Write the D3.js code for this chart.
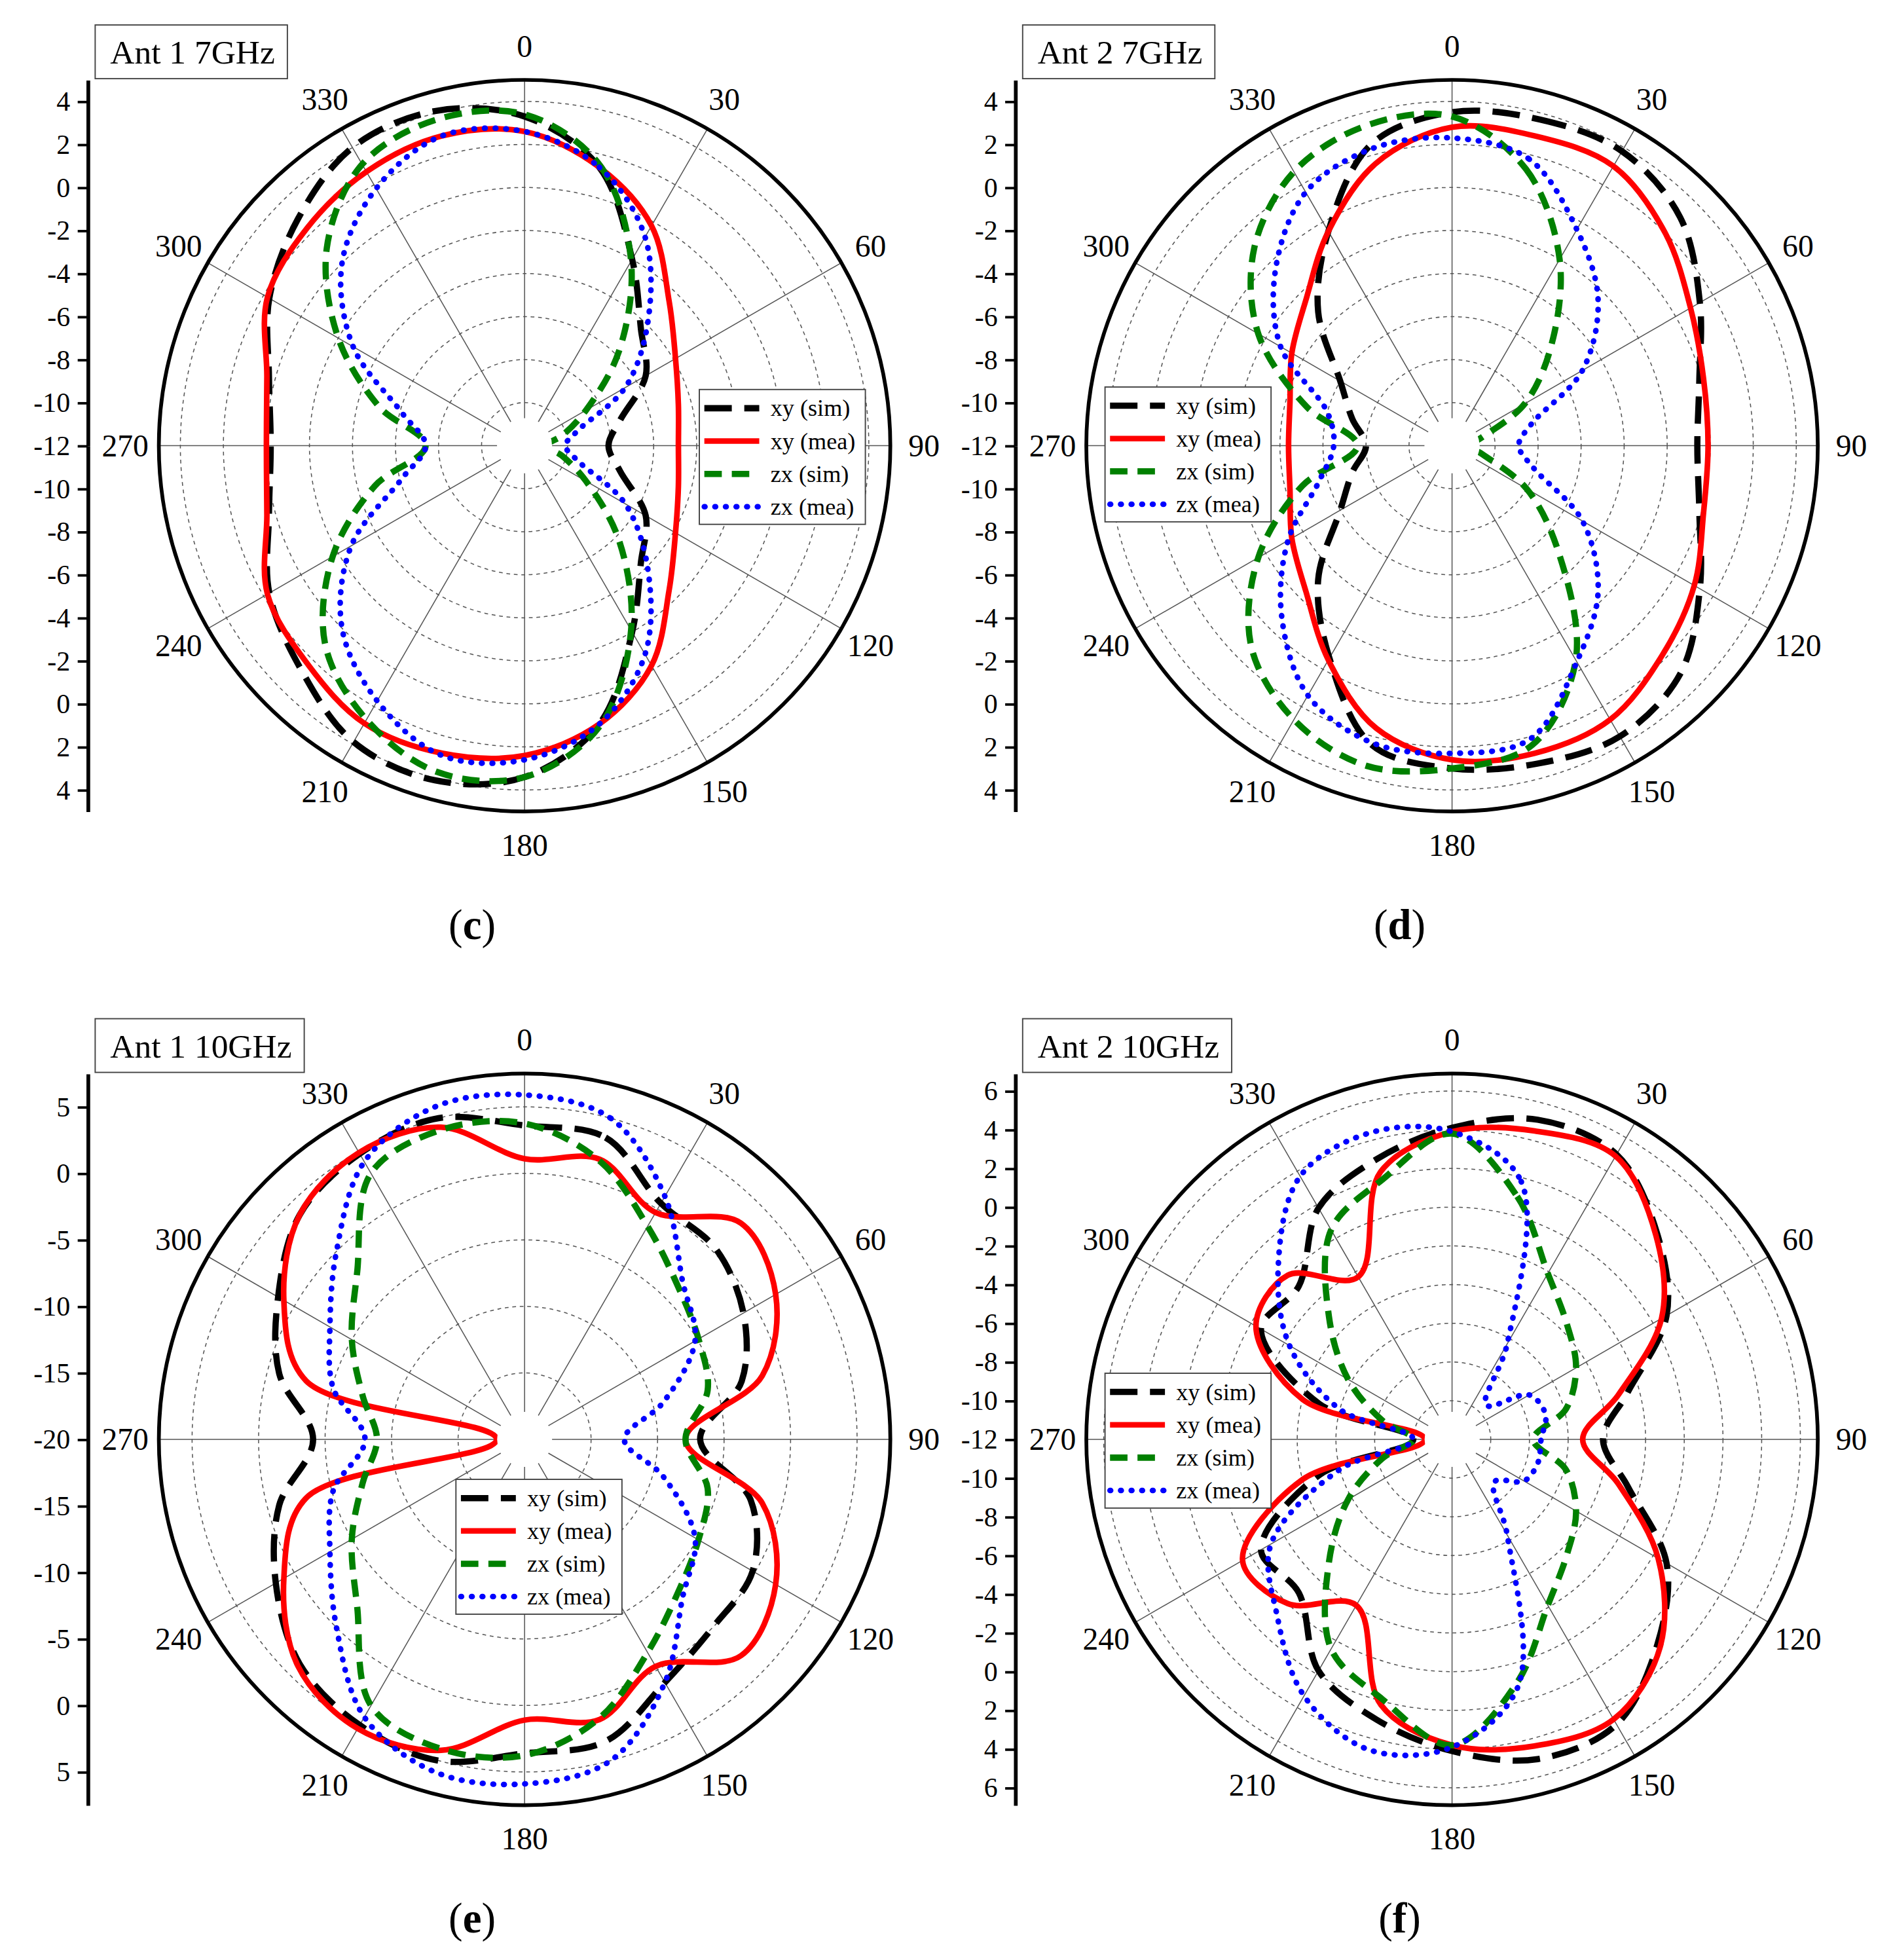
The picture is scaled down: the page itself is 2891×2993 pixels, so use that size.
<!DOCTYPE html>
<html lang="en">
<head>
<meta charset="UTF-8">
<title>Polar patterns</title>
<script src="https://cdn.jsdelivr.net/npm/d3@7/dist/d3.min.js"></script>
<style>body{margin:0;background:#fff} text{font-family:'Liberation Serif',serif}</style>
</head>
<body>
<svg id="main" width="2891" height="2993" viewBox="0 0 1516 1570"></svg>
<script>
// angles in degrees, 0 at top, clockwise
const angles = d3.range(0, 360, 15);
const seriesNames = ['xy (sim)', 'xy (mea)', 'zx (sim)', 'zx (mea)'];

const cXySim = [3.3,1.4,-2.0,-4.35,-5.5,-7.4,-8.1,-7.4,-5.5,-4.35,-2.0,1.4,3.4,4.1,3.9,2.7,1.7,0.3,-0.2,0.3,1.7,2.9,4.0,4.1];
const cXyMea = [2.6,1.4,-0.2,-2.5,-3.9,-4.6,-4.85,-4.6,-3.9,-2.5,-0.2,1.4,2.4,2.8,2.9,2.3,1.8,0.4,0.0,0.4,1.8,2.3,2.7,2.9];
const cZxSim = [3.4,1.5,-2.1,-5.8,-8.7,-10.2,-11.0,-10.2,-8.7,-5.8,-2.1,1.5,3.4,3.7,2.7,1.1,-1.7,-4.8,-7.4,-5.0,-2.0,1.0,3.1,3.7];
const cZxMea = [2.6,1.4,-0.8,-3.9,-6.6,-9.5,-10.1,-9.5,-6.6,-3.9,-0.8,1.4,2.6,2.9,1.7,0.0,-2.7,-6.1,-7.4,-6.1,-2.8,0.0,1.8,2.9];

const dXySim = [3.5,3.7,3.8,3.0,1.3,-0.1,-0.6,-0.1,1.3,3.0,3.6,3.3,3.0,2.4,-0.6,-3.2,-6.0,-7.2,-8.0,-7.2,-6.0,-3.2,-0.5,2.5];
const dXyMea = [2.8,2.9,3.0,2.0,0.8,0.1,-0.1,0.1,1.0,1.8,2.7,2.8,2.6,1.6,-0.5,-2.4,-3.4,-4.2,-4.4,-4.2,-3.4,-2.4,-0.5,1.6];
const dZxSim = [3.3,1.3,-2.0,-5.5,-8.1,-10.6,-11.2,-10.6,-8.0,-5.0,-0.5,2.4,3.0,3.4,2.7,1.2,-1.6,-4.8,-7.6,-5.0,-1.6,1.0,2.7,3.4];
const dZxMea = [2.3,1.8,-0.4,-2.4,-5.0,-8.2,-8.9,-8.1,-5.0,-2.4,-0.4,2.1,2.3,2.3,1.4,-0.8,-3.2,-5.6,-6.5,-6.0,-2.8,-0.4,1.6,2.3];

const eXySim = [3.6,3.5,0.5,0.3,-1.0,-3.1,-6.8,-2.4,-0.2,0.0,1.1,3.5,3.6,5.0,4.8,3.9,1.6,-0.9,-4.1,-0.9,1.4,3.9,4.8,5.0];
const eXyMea = [1.1,1.8,-0.3,3.0,1.8,-1.5,-7.9,-1.5,1.8,3.0,-0.3,1.8,1.1,4.2,5.1,4.1,0.9,-3.0,-17.9,-3.0,0.9,3.9,4.9,4.3];
const eZxSim = [3.75,1.7,-1.5,-3.7,-4.9,-5.75,-7.9,-5.75,-4.9,-3.7,-1.5,1.7,3.75,4.1,3.1,-2.2,-5.0,-7.4,-8.9,-7.4,-5.0,-2.2,3.1,4.1];
const eZxMea = [5.9,5.0,1.1,-3.2,-5.2,-9.2,-12.5,-9.2,-5.2,-3.2,1.1,5.0,5.9,5.9,4.1,0.0,-3.1,-5.1,-8.0,-5.1,-3.1,0.0,4.1,5.9];

const fXySim = [4.1,5.1,5.0,3.0,0.8,-2.6,-4.2,-2.6,0.8,3.0,5.0,5.1,4.1,3.0,1.8,-0.8,-0.6,-4.9,-10.0,-4.9,-0.6,-0.8,1.8,3.0];
const fXyMea = [3.9,4.5,4.9,2.9,0.5,-3.1,-5.25,-3.1,0.3,3.2,4.7,4.4,3.8,2.2,-2.1,0.0,0.5,-4.0,-10.6,-4.0,-0.3,0.0,-2.3,2.3];
const fZxSim = [3.8,1.0,-2.1,-3.6,-4.6,-5.9,-7.8,-5.9,-4.6,-3.6,-2.1,1.0,3.8,1.9,0.5,-3.0,-5.8,-8.3,-10.0,-8.3,-5.8,-3.0,0.5,1.9];
const fZxMea = [3.9,1.8,-6.3,-9.5,-7.4,-7.0,-7.4,-7.4,-7.7,-8.9,-6.3,1.2,3.9,4.6,3.3,0.8,-1.2,-6.0,-10.0,-6.0,-2.3,0.7,3.7,4.4];

const ticks7 = d3.range(-12, 5, 2);
const ticksE = d3.range(-20, 6, 5);
const ticksF = d3.range(-12, 7, 2);

const panels = [
  {title: 'Ant 1 7GHz', cap: 'c', cx: 420, cy: 357, min: -12, max: 5.0, ticks: ticks7,
   series: [cXySim, cXyMea, cZxSim, cZxMea], legend: [560, 312]},
  {title: 'Ant 2 7GHz', cap: 'd', cx: 1163, cy: 357, min: -12, max: 5.0, ticks: ticks7,
   series: [dXySim, dXyMea, dZxSim, dZxMea], legend: [885, 310]},
  {title: 'Ant 1 10GHz', cap: 'e', cx: 420, cy: 1153, min: -20, max: 7.5, ticks: ticksE,
   series: [eXySim, eXyMea, eZxSim, eZxMea], legend: [365, 1185]},
  {title: 'Ant 2 10GHz', cap: 'f', cx: 1163, cy: 1153, min: -12, max: 6.9, ticks: ticksF,
   series: [fXySim, fXyMea, fZxSim, fZxMea], legend: [885, 1100]}
];

const styles = [
  {color: '#000', width: 5, dash: '22,10', cap: 'butt'},
  {color: '#ff0000', width: 4.5, dash: null, cap: 'butt'},
  {color: '#008000', width: 5, dash: '14,8', cap: 'butt'},
  {color: '#0000ff', width: 4.5, dash: '0.5,8', cap: 'round'}
];

const R = 293, hole = 22;
const font = "'Liberation Serif', serif";
const svg = d3.select('#main').attr('font-family', font);

panels.forEach(p => {
  const g = svg.append('g').attr('transform', `translate(${p.cx},${p.cy})`);
  const r = d3.scaleLinear().domain([p.min, p.max]).range([0, R]).clamp(true);

  // grid circles
  g.selectAll('.grid').data(p.ticks.filter(t => t > p.min)).join('circle')
    .attr('r', d => r(d)).attr('fill', 'none').attr('stroke', '#555')
    .attr('stroke-width', 0.8).attr('stroke-dasharray', '3,3');
  // spokes
  g.selectAll('.spoke').data(d3.range(0, 360, 30)).join('line')
    .attr('x1', d => hole * Math.sin(d * Math.PI / 180)).attr('y1', d => -hole * Math.cos(d * Math.PI / 180))
    .attr('x2', d => R * Math.sin(d * Math.PI / 180)).attr('y2', d => -R * Math.cos(d * Math.PI / 180))
    .attr('stroke', '#555').attr('stroke-width', 0.8);
  g.append('circle').attr('r', R).attr('fill', 'none').attr('stroke', '#000').attr('stroke-width', 3);

  // angle labels
  g.selectAll('.alab').data(d3.range(0, 360, 30)).join('text')
    .attr('x', d => 320 * Math.sin(d * Math.PI / 180))
    .attr('y', d => -320 * Math.cos(d * Math.PI / 180))
    .attr('text-anchor', 'middle').attr('dominant-baseline', 'central')
    .attr('font-size', 25).text(d => d);

  // curves
  const line = d3.lineRadial()
    .angle((d, i) => angles[i] * Math.PI / 180)
    .radius(d => r(d))
    .curve(d3.curveCatmullRomClosed.alpha(0.5));
  p.series.forEach((s, k) => {
    const st = styles[k];
    g.append('path').attr('d', line(s)).attr('fill', 'none')
      .attr('stroke', st.color).attr('stroke-width', st.width)
      .attr('stroke-dasharray', st.dash).attr('stroke-linecap', st.cap);
  });
  g.append('circle').attr('r', hole).attr('fill', '#fff');

  // radial axis on the left, mirrored top and bottom
  const ax = p.cx - 350;
  const up = d3.scaleLinear().domain([p.min, p.max]).range([p.cy, p.cy - R]);
  const down = d3.scaleLinear().domain([p.min, p.max]).range([p.cy, p.cy + R]);
  const fmt = d => String(d);
  svg.append('g').attr('transform', `translate(${ax},0)`)
    .call(d3.axisLeft(up).tickValues(p.ticks).tickFormat(fmt).tickSize(8).tickSizeOuter(0).tickPadding(6));
  svg.append('g').attr('transform', `translate(${ax},0)`)
    .call(d3.axisLeft(down).tickValues(p.ticks.filter(t => t > p.min)).tickFormat(fmt).tickSize(8).tickSizeOuter(0).tickPadding(6));
  svg.selectAll('.domain').attr('stroke-width', 3);
  svg.selectAll('.tick line').attr('stroke-width', 2);
  svg.selectAll('.tick text').attr('font-size', 22).attr('font-family', font).attr('fill', '#000');

  // title box
  const tb = svg.append('g').attr('transform', `translate(${p.cx - 344},${p.cy - 337})`);
  const tt = tb.append('text').attr('x', 12).attr('y', 31).attr('font-size', 27).text(p.title);
  const tw = tt.node().getComputedTextLength();
  tb.insert('rect', 'text').attr('width', tw + 22).attr('height', 43)
    .attr('fill', '#fff').attr('stroke', '#444').attr('stroke-width', 1);

  // legend
  const lg = svg.append('g').attr('transform', `translate(${p.legend[0]},${p.legend[1]})`);
  lg.append('rect').attr('width', 133).attr('height', 108).attr('fill', '#fff')
    .attr('stroke', '#444').attr('stroke-width', 1);
  seriesNames.forEach((n, k) => {
    const st = styles[k];
    const y = 15 + k * 26.3;
    lg.append('line').attr('x1', 4).attr('x2', 48).attr('y1', y).attr('y2', y)
      .attr('stroke', st.color).attr('stroke-width', st.width)
      .attr('stroke-dasharray', st.dash).attr('stroke-linecap', st.cap);
    lg.append('text').attr('x', 57).attr('y', y).attr('dominant-baseline', 'central')
      .attr('font-size', 19).text(n);
  });

  // caption
  const cap = svg.append('text').attr('x', p.cx - 42).attr('y', p.cy + 395)
    .attr('text-anchor', 'middle').attr('font-size', 34);
  cap.append('tspan').text('(');
  cap.append('tspan').attr('font-weight', 'bold').text(p.cap);
  cap.append('tspan').text(')');
});
</script>
</body>
</html>
